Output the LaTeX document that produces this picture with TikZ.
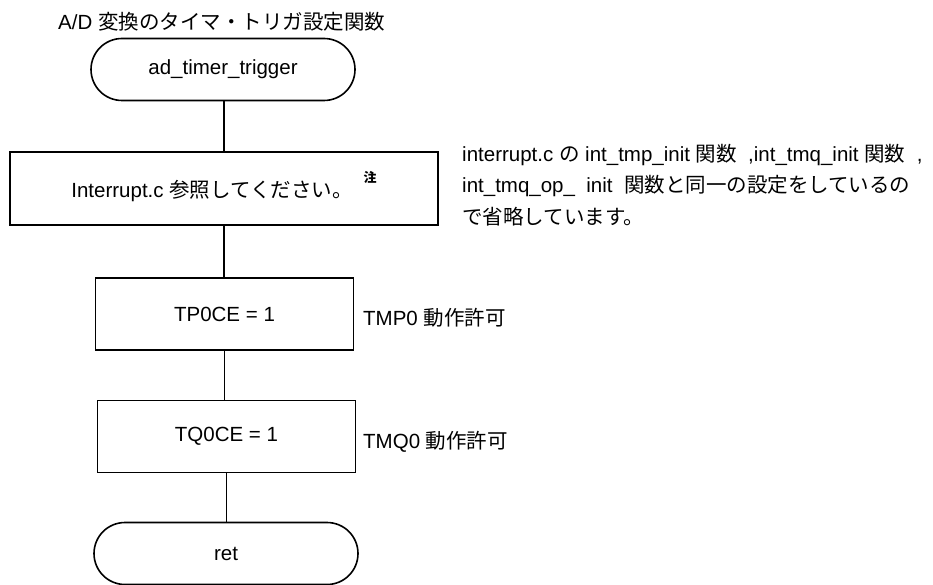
\documentclass[tikz,border=0pt]{standalone}
\usepackage{fontspec}
\setmainfont{Liberation Sans}
\newfontfamily\jp{Noto Sans CJK JP}
\begin{document}
\begin{tikzpicture}[x=1pt,y=-1pt,
  every node/.style={font=\fontsize{20.5}{24}\selectfont, inner sep=0pt},
  term/.style={draw, line width=1.6pt, rounded corners=31pt, minimum width=264pt, minimum height=62pt},
  proc/.style={draw, line width=1.6pt, minimum width=258pt, minimum height=72pt},
  conn/.style={line width=1.6pt},
  lbl/.style={anchor=west}]
\useasboundingbox (0,0) rectangle (933,585);
\node[anchor=west] (title) at (58,22) {A/D {\jp 変換のタイマ・トリガ設定関数}};
\node[term] (start) at (223,69.5) {ad\_timer\_trigger};
\node[proc, minimum width=428pt, minimum height=73pt] (b1) at (224,188.5) {};
\node (b1t) at (212,191) {Interrupt.c {\jp 参照してください。}};
\node[font=\jp\bfseries\fontsize{13}{14}\selectfont] (note) at (370,177) {注};
\node[proc] (b2) at (224.5,314) {TP0CE = 1};
\node[proc] (b3) at (226.5,436.5) {TQ0CE = 1};
\node[term] (ret) at (226,553.5) {ret};
\node[lbl] (l2) at (363,318) {TMP0 {\jp 動作許可}};
\node[lbl] (l3) at (363,442) {TMQ0 {\jp 動作許可}};
\node[anchor=north west, align=left, font=\fontsize{20.5}{31.5}\selectfont] (desc) at (462,144)
 {interrupt.c {\jp の} int\_tmp\_init {\jp 関数}\ \ ,int\_tmq\_init {\jp 関数}\ \ ,\\
  int\_tmq\_op\_\ \ init\ \ {\jp 関数と同一の設定をしているの}\\
  {\jp で省略しています。}};
\draw[conn] (start.south -| 224,0) -- (b1.north -| 224,0);
\draw[conn] (b1.south) -- (b1.south |- b2.north);
\draw[conn] (b2.south) -- (b2.south |- b3.north);
\draw[conn] (b3.south) -- (b3.south |- ret.north);
\end{tikzpicture}
\end{document}
